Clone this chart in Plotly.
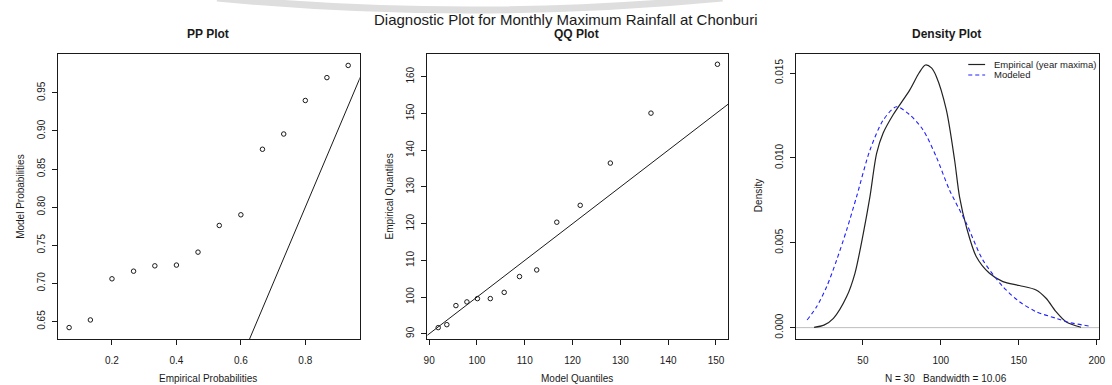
import plotly.graph_objects as go

W, H = 1112, 385

# ---------------- data ----------------
pp_empirical = [0.067, 0.133, 0.200, 0.267, 0.333, 0.400, 0.467, 0.533,
                0.600, 0.667, 0.733, 0.800, 0.867, 0.933]
pp_model = [0.642, 0.652, 0.706, 0.716, 0.723, 0.724, 0.741, 0.776,
            0.790, 0.876, 0.896, 0.940, 0.970, 0.986]

qq_model = [91.9, 93.7, 95.6, 97.9, 100.1, 102.8, 105.7, 108.9, 112.5,
            116.7, 121.6, 127.9, 136.4, 150.3]
qq_empirical = [91.7, 92.5, 97.7, 98.7, 99.6, 99.6, 101.3, 105.6, 107.4,
                120.4, 125.0, 136.5, 150.1, 163.4]

emp_x = [18.7, 25.0, 31.1, 39.6, 44.9, 50.3, 54.5, 58.8, 63.0, 69.4, 80.1,
         86.0, 90.1, 94.0, 97.1, 103.5, 108.8, 112.0, 116.3, 122.7, 131.2,
         139.8, 150.4, 161.1, 167.5, 173.9, 180.3, 189.9]
emp_y = [0.00002, 0.00015, 0.00055, 0.00183, 0.0032, 0.00557, 0.0077,
         0.01026, 0.01146, 0.01254, 0.01401, 0.0150, 0.01547, 0.0153,
         0.0148, 0.01284, 0.00989, 0.0077, 0.00596, 0.00419, 0.0032,
         0.00271, 0.00248, 0.00222, 0.00173, 0.00094, 0.00035, 0.00002]

mod_x = [14.2, 20.4, 26.8, 33.2, 39.6, 46.0, 54.5, 63.0, 71.5, 80.0, 88.5,
         97.0, 105.5, 116.3, 126.9, 139.8, 150.4, 161.1, 173.9, 182.4, 194.8]
mod_y = [0.00045, 0.00124, 0.00242, 0.00399, 0.00576, 0.00773, 0.01045,
         0.01222, 0.01301, 0.01254, 0.01166, 0.01008, 0.00812, 0.00616,
         0.00399, 0.00242, 0.00153, 0.00094, 0.00055, 0.0003, 0.0001]

identity = [0, 1000]

pp_xticks = [0.2, 0.4, 0.6, 0.8]
pp_yticks = [0.65, 0.70, 0.75, 0.80, 0.85, 0.90, 0.95]
pp_yticktext = ["0.65", "0.70", "0.75", "0.80", "0.85", "0.90", "0.95"]
qq_xticks = [90, 100, 110, 120, 130, 140, 150]
qq_yticks = [90, 100, 110, 120, 130, 140, 150, 160]
d_xticks = [50, 100, 150, 200]
d_yticks = [0.000, 0.005, 0.010, 0.015]
d_yticktext = ["0.000", "0.005", "0.010", "0.015"]

main_title = "Diagnostic Plot for Monthly Maximum Rainfall at Chonburi"
legend_labels = ["Empirical (year maxima)", "Modeled"]

# ---------------- style ----------------
FONT = "Liberation Sans, Arial, sans-serif"
TXT = "#1a1a1a"

def px(x):
    return x / W

def py(y):
    return 1 - y / H

top, bottom = 54, 339
boxes = {"1": (54, 359), "2": (427.3, 731), "3": (799.3, 1105)}

fig = go.Figure()

pt = dict(symbol="circle-open", size=4.5, color=TXT, line=dict(width=1, color=TXT))

fig.add_trace(go.Scatter(x=pp_empirical, y=pp_model, mode="markers", marker=pt,
                         xaxis="x", yaxis="y", showlegend=False))
fig.add_trace(go.Scatter(x=identity, y=identity, mode="lines",
                         line=dict(color=TXT, width=1), xaxis="x", yaxis="y",
                         showlegend=False))

fig.add_trace(go.Scatter(x=qq_model, y=qq_empirical, mode="markers", marker=pt,
                         xaxis="x2", yaxis="y2", showlegend=False))
fig.add_trace(go.Scatter(x=identity, y=identity, mode="lines",
                         line=dict(color=TXT, width=1), xaxis="x2", yaxis="y2",
                         showlegend=False))

fig.add_trace(go.Scatter(x=emp_x, y=emp_y, mode="lines",
                         line=dict(color="#222222", width=1.2, shape="spline", smoothing=0.8),
                         xaxis="x3", yaxis="y3", name=legend_labels[0], showlegend=False))
fig.add_trace(go.Scatter(x=mod_x, y=mod_y, mode="lines",
                         line=dict(color="#2020ff", width=1.1, dash="4px,3px",
                                   shape="spline", smoothing=0.8),
                         xaxis="x3", yaxis="y3", name=legend_labels[1], showlegend=False))

def axis(dom, rng, tickvals, ticktext=None, vertical=False):
    d = dict(domain=dom, range=rng, tickvals=tickvals, showgrid=False,
             zeroline=False, showline=True, mirror=True, linecolor=TXT,
             linewidth=1, ticks="outside", ticklen=5, tickwidth=1,
             tickcolor=TXT, tickfont=dict(family=FONT, size=10, color=TXT),
             fixedrange=True)
    if ticktext is not None:
        d["ticktext"] = ticktext
    if vertical:
        d["tickangle"] = -90
        d["ticklabelstandoff"] = 3
    else:
        d["ticklabelstandoff"] = 7
    return d

ydom = [py(bottom), py(top)]
fig.update_layout(
    xaxis=axis([px(boxes["1"][0]), px(boxes["1"][1])], [0.031, 0.969], pp_xticks),
    yaxis=axis(ydom, [0.627, 1.001], pp_yticks, pp_yticktext, True),
    xaxis2=axis([px(boxes["2"][0]), px(boxes["2"][1])], [89.65, 152.6], qq_xticks),
    yaxis2=axis(ydom, [88.6, 166.2], qq_yticks, None, True),
    xaxis3=axis([px(boxes["3"][0]), px(boxes["3"][1])], [7.16, 201.5], d_xticks),
    yaxis3=axis(ydom, [-0.00067, 0.01612], d_yticks, d_yticktext, True),
)
fig.layout.yaxis.anchor = "x"
fig.layout.xaxis.anchor = "y"
fig.layout.yaxis2.anchor = "x2"
fig.layout.xaxis2.anchor = "y2"
fig.layout.yaxis3.anchor = "x3"
fig.layout.xaxis3.anchor = "y3"

# zero line in density plot
fig.add_shape(type="line", xref="x3 domain", x0=0, x1=1, yref="y3", y0=0, y1=0,
              line=dict(color="#bdbdbd", width=1), layer="below")

# decorative arc at top
fig.add_shape(type="path", xref="paper", yref="paper",
              path=f"M {px(215)},{py(-2)} Q {px(470)},{py(22)} {px(725)},{py(-2)}",
              line=dict(color="#dedede", width=7))

ann = []
def text(x, y, s, size=10, bold=False, angle=0):
    ann.append(dict(x=px(x), y=py(y), xref="paper", yref="paper", text=f"<b>{s}</b>" if bold else s,
                    showarrow=False, textangle=angle, xanchor="center", yanchor="middle",
                    font=dict(family=FONT, size=size, color=TXT)))

text(567, 19, main_title, size=15)
text(206, 34, "PP Plot", size=12, bold=True)
text(578, 34, "QQ Plot", size=12, bold=True)
text(951, 34, "Density Plot", size=12, bold=True)
text(206, 378, "Empirical Probabilities", size=10)
text(578, 378, "Model Quantiles", size=10)
text(951, 378, "N = 30   Bandwidth = 10.06", size=10)
text(17, 196, "Model Probabilities", size=10, angle=-90)
text(390, 196, "Empirical Quantiles", size=10, angle=-90)
text(762, 196, "Density", size=10, angle=-90)

# manual legend
leg_y = [64.5, 75]
fig.add_shape(type="line", xref="paper", yref="paper", x0=px(973), x1=px(990),
              y0=py(leg_y[0]), y1=py(leg_y[0]), line=dict(color="#222222", width=1.2))
fig.add_shape(type="line", xref="paper", yref="paper", x0=px(973), x1=px(990),
              y0=py(leg_y[1]), y1=py(leg_y[1]), line=dict(color="#2020ff", width=1.1, dash="4px,3px"))
for i, lab in enumerate(legend_labels):
    ann.append(dict(x=px(997), y=py(leg_y[i]), xref="paper", yref="paper", text=lab,
                    showarrow=False, xanchor="left", yanchor="middle",
                    font=dict(family=FONT, size=9.5, color=TXT)))

fig.update_layout(annotations=ann, width=W, height=H,
                  margin=dict(l=0, r=0, t=0, b=0),
                  paper_bgcolor="white", plot_bgcolor="white", showlegend=False)

fig.write_html("out.html", config={"displayModeBar": False})
